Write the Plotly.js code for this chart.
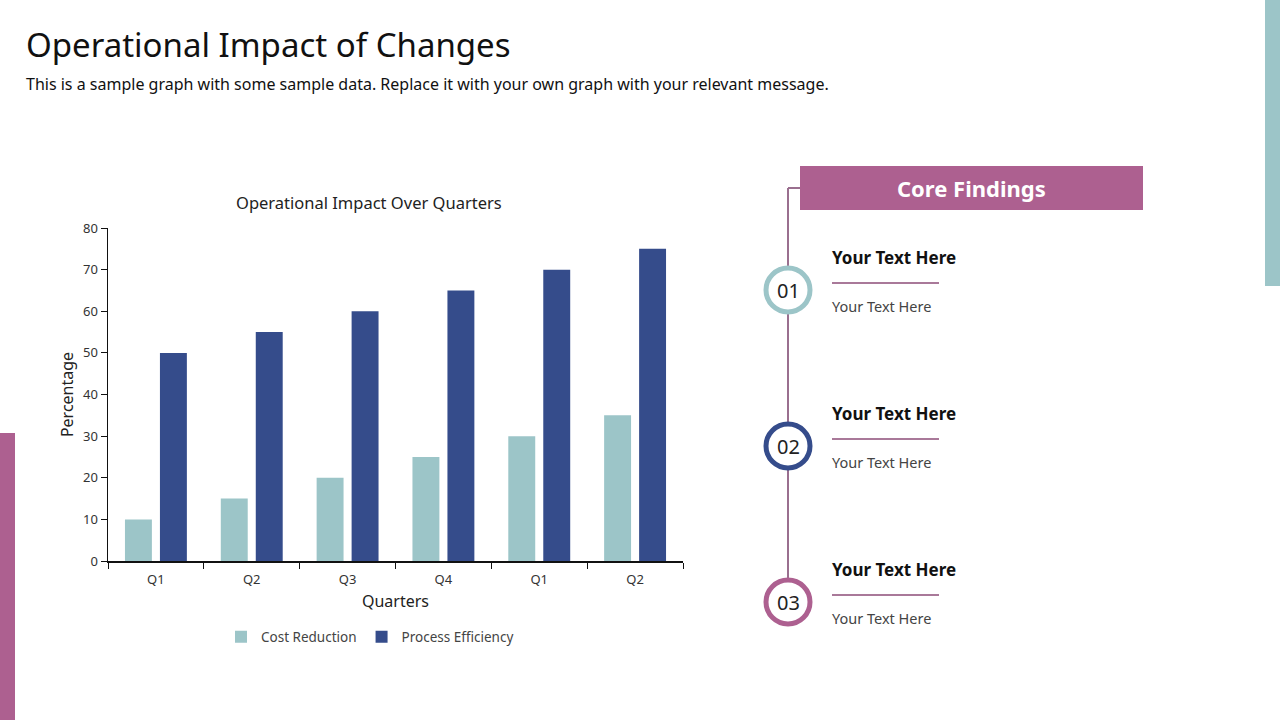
<!DOCTYPE html>
<html>
<head>
<meta charset="utf-8">
<script src="https://cdn.plot.ly/plotly-3.0.1.min.js"></script>
<style>
  html, body { margin: 0; padding: 0; background: #ffffff; }
  #chart { width: 1280px; height: 720px; }
</style>
</head>
<body>
<div id="chart"></div>
<script>
// Quarterly data
const quarters = ["Q1", "Q2", "Q3", "Q4", "Q1", "Q2"];
const costReduction = [10, 15, 20, 25, 30, 35];
const processEfficiency = [50, 55, 60, 65, 70, 75];
const findingNumbers = ["01", "02", "03"];
const findingHeads = ["Your Text Here", "Your Text Here", "Your Text Here"];
const findingBodies = ["Your Text Here", "Your Text Here", "Your Text Here"];

const TEAL = "#9cc5c8";
const NAVY = "#354c8b";
const PINK = "#ad6090";
const FONT = "'Noto Sans', 'Open Sans', sans-serif";

// plot area in page pixels
const L = 108, R = 683, T = 228, B = 561;
const px = x => (x - L) / (R - L);
const py = y => (B - y) / (B - T);

const idx = quarters.map((_, i) => i);

const traces = [
  {
    type: "bar", name: "Cost Reduction", x: idx, y: costReduction,
    marker: { color: TEAL }, hoverinfo: "skip"
  },
  {
    type: "bar", name: "Process Efficiency", x: idx, y: processEfficiency,
    marker: { color: NAVY }, hoverinfo: "skip"
  }
];

const shapes = [
  // side accent bars
  { type: "rect", xref: "paper", yref: "paper", x0: px(0), x1: px(15), y0: py(433), y1: py(720), fillcolor: PINK, line: { width: 0 } },
  { type: "rect", xref: "paper", yref: "paper", x0: px(1265), x1: px(1280), y0: py(0), y1: py(286), fillcolor: TEAL, line: { width: 0 } },
  // timeline
  { type: "line", xref: "paper", yref: "paper", x0: px(788), x1: px(788), y0: py(188), y1: py(600), line: { color: "#9a6f8f", width: 2 } },
  { type: "line", xref: "paper", yref: "paper", x0: px(788), x1: px(800), y0: py(188), y1: py(188), line: { color: "#9a6f8f", width: 2 } },
  // header box
  { type: "rect", xref: "paper", yref: "paper", x0: px(800), x1: px(1143), y0: py(166), y1: py(210), fillcolor: PINK, line: { width: 0 } }
];

const annotations = [
  { text: "Operational Impact of Changes", xref: "paper", yref: "paper", x: px(24), y: py(44), xanchor: "left", yanchor: "middle", showarrow: false, font: { family: FONT, size: 33, color: "#111" } },
  { text: "This is a sample graph with some sample data. Replace it with your own graph with your relevant message.", xref: "paper", yref: "paper", x: px(24), y: py(84), xanchor: "left", yanchor: "middle", showarrow: false, font: { family: FONT, size: 16, color: "#111" } },
  { text: "Operational Impact Over Quarters", xref: "paper", yref: "paper", x: px(369), y: py(202), xanchor: "center", yanchor: "middle", showarrow: false, font: { family: FONT, size: 16.5, color: "#222" } },
  { text: "<b>Core Findings</b>", xref: "paper", yref: "paper", x: px(971), y: py(188), xanchor: "center", yanchor: "middle", showarrow: false, font: { family: FONT, size: 22, color: "#ffffff" } }
];

const circleColors = [TEAL, NAVY, PINK];
const rowY = [290, 446, 602];
findingNumbers.forEach((num, i) => {
  const cy = rowY[i];
  shapes.push({ type: "circle", xref: "paper", yref: "paper", x0: px(766), x1: px(810), y0: py(cy - 22), y1: py(cy + 22), fillcolor: "#ffffff", line: { color: circleColors[i], width: 5 } });
  shapes.push({ type: "line", xref: "paper", yref: "paper", x0: px(832), x1: px(939), y0: py(cy - 7), y1: py(cy - 7), line: { color: "#8c4d77", width: 1.5 } });
  annotations.push({ text: num, xref: "paper", yref: "paper", x: px(788), y: py(cy), xanchor: "center", yanchor: "middle", showarrow: false, font: { family: FONT, size: 20, color: "#222" } });
  annotations.push({ text: "<b>" + findingHeads[i] + "</b>", xref: "paper", yref: "paper", x: px(830), y: py(cy - 33), xanchor: "left", yanchor: "middle", showarrow: false, font: { family: FONT, size: 17, color: "#111" } });
  annotations.push({ text: findingBodies[i], xref: "paper", yref: "paper", x: px(830), y: py(cy + 16), xanchor: "left", yanchor: "middle", showarrow: false, font: { family: FONT, size: 14.5, color: "#444" } });
});

const layout = {
  width: 1280, height: 720,
  paper_bgcolor: "#ffffff", plot_bgcolor: "#ffffff",
  margin: { l: L, r: 1280 - R, t: T, b: 720 - B, pad: 0 },
  font: { family: FONT, color: "#333" },
  barmode: "group", bargap: 0.27, bargroupgap: 0.23,
  showlegend: true,
  legend: { orientation: "h", x: px(370), xanchor: "center", y: py(637), yanchor: "middle", font: { family: FONT, size: 13.5, color: "#444" }, itemwidth: 30, tracegroupgap: 0 },
  xaxis: {
    range: [-0.5, 5.5], tickmode: "array", tickvals: idx, ticktext: quarters,
    ticks: "", showline: true, linecolor: "#111", linewidth: 1.5, showgrid: false, zeroline: false,
    tickfont: { family: FONT, size: 13, color: "#333" }, ticklabelstandoff: 6,
    minor: { tickmode: "linear", tick0: -0.5, dtick: 1, ticks: "outside", ticklen: 6, tickcolor: "#111", tickwidth: 1 },
    title: { text: "Quarters", font: { family: FONT, size: 16, color: "#222" }, standoff: 8 },
    fixedrange: true
  },
  yaxis: {
    range: [0, 80], dtick: 10, ticks: "outside", ticklen: 6, tickcolor: "#111",
    showline: true, linecolor: "#111", linewidth: 1.5, showgrid: false, zeroline: false,
    tickfont: { family: FONT, size: 13, color: "#333" },
    title: { text: "Percentage", font: { family: FONT, size: 16, color: "#222" }, standoff: 5 },
    fixedrange: true
  },
  shapes: shapes,
  annotations: annotations
};

Plotly.newPlot("chart", traces, layout, { displayModeBar: false, staticPlot: true });
</script>
</body>
</html>
